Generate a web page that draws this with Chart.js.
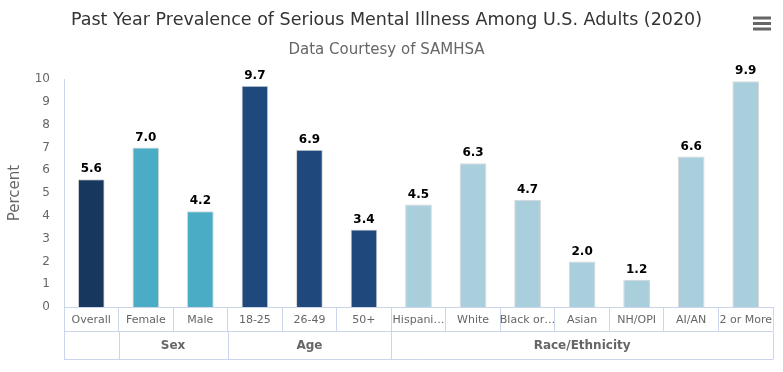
<!DOCTYPE html>
<html><head><meta charset="utf-8">
<script src="https://cdn.jsdelivr.net/npm/chart.js@4"></script>
<style>html,body{margin:0;padding:0;background:#fff}canvas{display:block}</style>
</head><body>
<canvas id="c" width="783" height="372"></canvas>
<script>
const categories = ["Overall","Female","Male","18-25","26-49","50+","Hispani…","White","Black or…","Asian","NH/OPI","AI/AN","2 or More"];
const values = [5.6, 7.0, 4.2, 9.7, 6.9, 3.4, 4.5, 6.3, 4.7, 2.0, 1.2, 6.6, 9.9];
const groupNames = ["", "Sex", "Age", "Race/Ethnicity"];
const groupSizes = [1, 2, 3, 7];
const groupColors = ["#17375e", "#4bacc6", "#1f497d", "#a9cfdd"];
const yTickValues = [0, 1, 2, 3, 4, 5, 6, 7, 8, 9, 10];

const FONT = "'DejaVu Sans', sans-serif";
const AXIS = '#ccd6eb';

const barColors = [];
groupSizes.forEach((n, g) => { for (let i = 0; i < n; i++) barColors.push(groupColors[g]); });

const groupAxis = {
  id: 'groupAxis',
  afterDraw(chart) {
    const x = chart.scales.x, ctx = chart.ctx;
    const half = (x.getPixelForValue(1) - x.getPixelForValue(0)) / 2;
    const y0 = Math.round(x.top + 24) + 0.5, y1 = Math.round(x.top + 52) + 0.5;
    ctx.save();
    ctx.strokeStyle = AXIS; ctx.lineWidth = 1;
    ctx.beginPath();
    ctx.moveTo(x.left, y0); ctx.lineTo(x.right, y0);
    ctx.moveTo(x.left, y1); ctx.lineTo(x.right, y1);
    let idx = 0;
    const bounds = [x.getPixelForValue(0) - half];
    groupSizes.forEach(n => { idx += n; bounds.push(x.getPixelForValue(idx - 1) + half); });
    bounds.forEach(b => { const bx = Math.round(b) + 0.5; ctx.moveTo(bx, y0); ctx.lineTo(bx, y1); });
    ctx.stroke();
    ctx.fillStyle = '#666'; ctx.font = "bold 12px " + FONT;
    ctx.textAlign = 'center'; ctx.textBaseline = 'middle';
    groupNames.forEach((name, g) => {
      if (name) ctx.fillText(name, (bounds[g] + bounds[g + 1]) / 2, (y0 + y1) / 2);
    });
    // export menu icon
    ctx.strokeStyle = '#666'; ctx.lineWidth = 3; ctx.lineCap = 'butt';
    ctx.beginPath();
    [18, 23.5, 29].forEach(yy => { ctx.moveTo(753, yy); ctx.lineTo(771, yy); });
    ctx.stroke();
    ctx.restore();
  }
};

const dataLabels = {
  id: 'dataLabels',
  afterDatasetsDraw(chart) {
    const ctx = chart.ctx, meta = chart.getDatasetMeta(0);
    ctx.save();
    ctx.font = "bold 12px " + FONT;
    ctx.textAlign = 'center'; ctx.textBaseline = 'bottom';
    ctx.lineJoin = 'round';
    meta.data.forEach((el, i) => {
      const t = values[i].toFixed(1);
      ctx.strokeStyle = '#fff'; ctx.lineWidth = 3; ctx.strokeText(t, el.x, el.y - 4);
      ctx.fillStyle = '#000'; ctx.fillText(t, el.x, el.y - 4);
    });
    ctx.restore();
  }
};

new Chart(document.getElementById('c'), {
  type: 'bar',
  data: {
    labels: categories,
    datasets: [{
      data: values,
      backgroundColor: barColors,
      borderColor: '#d6d6d6',
      borderWidth: 1,
      categoryPercentage: 1,
      barPercentage: 0.49
    }]
  },
  options: {
    responsive: false,
    animation: false,
    events: [],
    layout: { padding: { top: 9.5, right: 10, bottom: 12, left: 0 } },
    plugins: {
      legend: { display: false },
      tooltip: { enabled: false },
      title: {
        display: true,
        text: 'Past Year Prevalence of Serious Mental Illness Among U.S. Adults (2020)',
        color: '#333',
        font: { family: FONT, size: 17.5, weight: 'normal' },
        padding: { top: 0, bottom: 6 }
      },
      subtitle: {
        display: true,
        text: 'Data Courtesy of SAMHSA',
        color: '#666',
        font: { family: FONT, size: 15, weight: 'normal' },
        padding: { top: 4.5, bottom: 20 }
      }
    },
    scales: {
      x: {
        offset: true,
        grid: { display: true, drawOnChartArea: false, offset: true, tickLength: 24, color: AXIS },
        border: { display: true, color: AXIS },
        ticks: { color: '#666', font: { family: FONT, size: 11 }, padding: -17, maxRotation: 0, autoSkip: false },
        afterFit(s) { s.height = 53; }
      },
      y: {
        min: 0, max: 10,
        afterBuildTicks(s) { s.ticks = yTickValues.map(v => ({ value: v })); },
        grid: { display: false, drawTicks: false },
        border: { display: true, color: AXIS },
        ticks: { color: '#666', font: { family: FONT, size: 12 }, padding: 14 },
        title: { display: true, text: 'Percent', color: '#666', font: { family: FONT, size: 15 }, padding: { top: 6, bottom: 0 } },
        afterFit(s) { s.width = 64; }
      }
    }
  },
  plugins: [groupAxis, dataLabels]
});
</script>
</body></html>
